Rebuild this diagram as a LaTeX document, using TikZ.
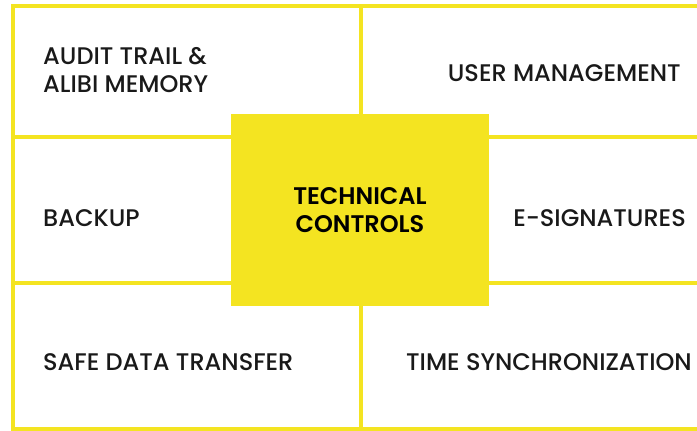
\documentclass[tikz,border=0pt]{standalone}
\usepackage{fontspec}
\setmainfont{Poppins}[UprightFont=* Medium, BoldFont=* SemiBold]
\definecolor{ctrlyellow}{RGB}{244,228,33}
\tikzset{
  gridline/.style={draw=ctrlyellow, line width=2.6pt},
  cell/.style={font=\fontsize{20.5}{24}\selectfont, text=black!90, inner sep=0pt, align=left},
  core/.style={fill=ctrlyellow, minimum width=7.74cm, minimum height=5.76cm, inner sep=0pt,
    font=\bfseries\fontsize{20.5}{24}\selectfont, align=center}
}
\begin{document}
\begin{tikzpicture}[x=0.03cm, y=-0.03cm]
    \useasboundingbox (0,0) rectangle (697,431);
    \clip (0,0) rectangle (697,431);

    \draw[gridline] (740,6) -- (13,6) -- (13,429) -- (740,429);
    \draw[gridline] (13,137) -- (740,137);
    \draw[gridline] (13,283) -- (740,283);
    \draw[gridline] (361,6) -- (361,429);

    \node[core] (tc) at (360,210) {TECHNICAL\\CONTROLS};

    \node[cell, anchor=west] (audit) at (43,70) {AUDIT TRAIL \&\\ALIBI MEMORY};
    \node[cell, anchor=east] (user) at (681,73) {USER MANAGEMENT};
    \node[cell, anchor=west] (backup) at (43,218) {BACKUP};
    \node[cell, anchor=east] (esig) at (686,218) {E-SIGNATURES};
    \node[cell, anchor=west] (safe) at (43,362) {SAFE DATA TRANSFER};
    \node[cell, anchor=east] (time) at (692,362) {TIME SYNCHRONIZATION};
\end{tikzpicture}
\end{document}
